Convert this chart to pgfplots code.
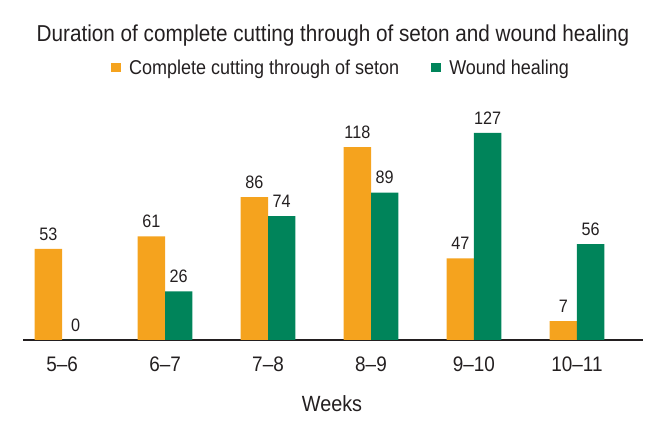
\documentclass[border=0pt]{standalone}
\usepackage{fontspec}
\setmainfont{Liberation Sans}[FakeStretch=0.9]
\usepackage{pgfplots}
\pgfplotsset{compat=1.18}
\definecolor{corange}{RGB}{245,163,30}
\definecolor{cgreen}{RGB}{0,132,90}
\definecolor{ctext}{RGB}{35,31,32}
\begin{document}
\begin{tikzpicture}[x=1pt,y=1pt]
\useasboundingbox (0,0) rectangle (659,431);
\node[anchor=base,font=\fontsize{23}{27}\selectfont,text=ctext,inner sep=0] at (333,389) {Duration of complete cutting through of seton and wound healing};
\node[anchor=base,font=\fontsize{22}{26}\selectfont,text=ctext,inner sep=0] at (332,19) {Weeks};
\begin{axis}[
  at={(23pt,91pt)}, anchor=south west,
  scale only axis, width=620pt, height=219.4pt,
  xmin=-0.379, xmax=5.641, ymin=0, ymax=140,
  axis x line=bottom, axis y line=none,
  x axis line style={-, line width=1.8pt, draw=ctext},
  ybar=0pt, bar width=0.265,
  xtick={0,1,2,3,4,5},
  xticklabels={5--6,6--7,7--8,8--9,9--10,10--11},
  major tick length=0pt,
  ytick=\empty,
  /pgf/number format/assume math mode=true,
  xticklabel style={font=\fontsize{21}{25}\selectfont, text=ctext, yshift=-13pt},
  y filter/.expression={y>0 ? y+5.1 : 0},
  point meta=rawy,
  nodes near coords,
  every node near coord/.append style={font=\fontsize{18}{22}\selectfont, text=ctext, yshift=5pt},
  legend columns=2,
  legend style={at={(0.513,1.24)}, anchor=center, draw=none, fill=none,
    font=\fontsize{20}{24}\selectfont, text=ctext,
    /tikz/every odd column/.append style={column sep=6pt},
    /tikz/every even column/.append style={column sep=30pt},
    nodes={inner sep=2pt}},
  legend image code/.code={\fill[#1] (0pt,-4.5pt) rectangle (10pt,4.5pt);},
]
\addplot[fill=corange, draw=none] coordinates {(0,53) (1,61) (2,86) (3,118) (4,47) (5,7)};
\addplot[fill=cgreen, draw=none] coordinates {(0,0) (1,26) (2,74) (3,89) (4,127) (5,56)};
\legend{Complete cutting through of seton, Wound healing}
\end{axis}
\end{tikzpicture}
\end{document}
